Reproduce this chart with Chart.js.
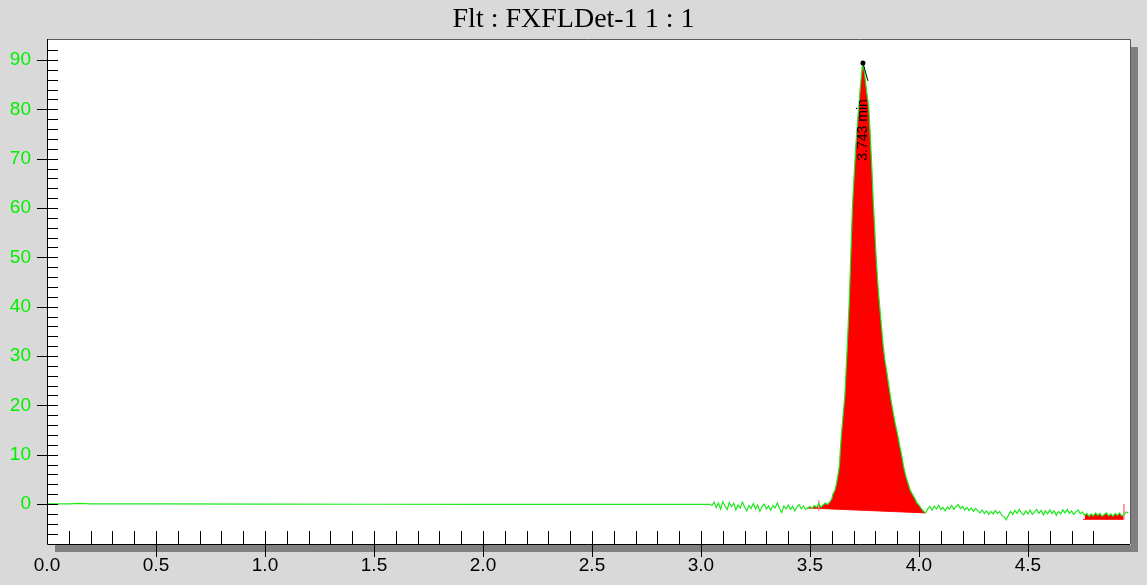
<!DOCTYPE html>
<html>
<head>
<meta charset="utf-8">
<script src="https://cdn.jsdelivr.net/npm/chart.js@4.4.1/dist/chart.umd.min.js"></script>
<style>
  html, body { margin:0; padding:0; background:#d9d9d9; }
  canvas { display:block; }
</style>
</head>
<body>
<canvas id="trace" width="1147" height="585"></canvas>
<script>
const chartTitle = 'Flt : FXFLDet-1 1 : 1';

// flat part of the run
const baseTime   = [0, 0.10, 0.15, 0.20, 0.50, 1.00, 1.50, 2.00, 2.50, 2.90, 3.00, 3.04];
const baseSignal = [0.05, 0.05, 0.15, 0.05, 0.02, -0.02, -0.04, -0.06, -0.08, -0.06, -0.05, -0.05];

// noise before the peak
const preTime = [3.05,3.06,3.07,3.08,3.09,3.10,3.11,3.12,3.13,3.14,3.15,3.16,3.17,3.18,3.19,3.20,3.21,3.22,
  3.23,3.24,3.25,3.26,3.27,3.28,3.29,3.30,3.31,3.32,3.33,3.34,3.35,3.36,3.37,3.38,3.39,3.40,3.41,3.42,3.43,
  3.44,3.45,3.46,3.47,3.48];
const preSignal = [-0.3,0.4,-0.7,0.2,-1.0,0.5,-0.4,-1.1,0.3,-0.5,0.2,-1.2,-0.2,-0.8,0.4,-0.6,-1.4,-0.3,
  -0.9,0.1,-1.0,-0.2,-1.5,-0.5,0.0,-1.0,-0.4,-1.3,-0.3,-0.8,0.2,-0.9,-1.7,-0.4,-1.0,-0.2,-1.1,-0.5,-1.4,
  -0.6,-0.1,-1.0,-0.4,-1.1];

// the peak
const peakTime = [3.49,3.50,3.51,3.52,3.53,3.54,3.55,3.56,3.57,3.58,3.59,3.60,3.605,3.61,3.615,3.62,3.625,
  3.63,3.635,3.64,3.645,3.65,3.655,3.66,3.665,3.67,3.675,3.68,3.685,3.69,3.695,3.70,3.705,3.71,3.715,3.72,
  3.725,3.73,3.735,3.74,3.743,3.75,3.755,3.76,3.765,3.77,3.775,3.78,3.785,3.79,3.795,3.80,3.805,3.81,3.815,
  3.82,3.825,3.83,3.835,3.84,3.845,3.85,3.86,3.87,3.88,3.89,3.90,3.91,3.92,3.93,3.94,3.95,3.96,3.97,3.98,
  3.99,4.00,4.01,4.02,4.03];
const peakSignal = [-0.8,-0.5,-0.9,-0.3,-0.7,0.1,-0.6,-0.2,0.2,-0.1,0.4,1.0,2.0,2.4,2.9,3.8,5.0,
  6.3,7.8,11.5,14.5,17.0,19.5,22.0,26.5,31.0,36.0,41.0,47.5,54.0,60.5,64.5,68.5,72.5,75.5,78.5,
  81.0,84.0,86.5,88.8,89.4,87.5,85.5,83.5,82.0,80.0,76.0,71.5,67.0,61.5,57.5,53.0,49.0,45.5,42.5,
  40.0,37.5,35.0,32.5,30.5,28.8,27.5,24.5,21.5,19.0,16.5,14.5,12.2,10.0,7.5,5.6,4.2,2.8,2.0,1.2,
  0.3,-0.2,-0.9,-1.4,-1.8];

// noise after the peak
const postTime = [4.04,4.05,4.06,4.07,4.08,4.09,4.10,4.11,4.12,4.13,4.14,4.15,4.16,4.17,4.18,4.19,4.20,
  4.21,4.22,4.23,4.24,4.25,4.26,4.27,4.28,4.29,4.30,4.31,4.32,4.33,4.34,4.35,4.36,4.37,4.38,4.39,4.40,
  4.41,4.42,4.43,4.44,4.45,4.46,4.47,4.48,4.49,4.50,4.51,4.52,4.53,4.54,4.55,4.56,4.57,4.58,4.59,4.60,
  4.61,4.62,4.63,4.64,4.65,4.66,4.67,4.68,4.69,4.70,4.71,4.72,4.73,4.74,4.75,4.76,4.77,4.78,4.79,4.80,
  4.81,4.82,4.83,4.84,4.85,4.86,4.87,4.88,4.89,4.90,4.91,4.92,4.93,4.94,4.95,4.96];
const postSignal = [-1.0,-0.5,-1.2,-0.4,-1.0,-0.3,-1.1,-0.7,-1.4,-0.6,-1.0,-0.3,-1.1,-0.5,-0.1,-0.9,-0.5,
  -1.2,-0.7,-1.3,-0.8,-1.5,-0.9,-1.4,-1.8,-1.2,-1.9,-1.4,-2.1,-1.5,-2.0,-1.3,-1.9,-1.5,-2.3,-2.6,-3.2,
  -2.3,-1.5,-2.1,-1.3,-1.9,-1.1,-1.8,-2.2,-1.4,-2.0,-1.2,-2.1,-1.6,-1.1,-1.9,-1.3,-2.2,-1.4,-2.0,-1.2,
  -1.9,-1.4,-2.3,-1.5,-2.0,-1.2,-1.8,-1.1,-1.9,-1.4,-2.1,-1.6,-1.2,-2.0,-1.6,-2.3,-1.9,-2.5,-2.0,-2.4,
  -1.8,-2.3,-1.9,-2.5,-2.1,-1.8,-2.4,-2.0,-2.5,-1.9,-2.3,-1.8,-2.4,-2.2,-1.6,-1.8];

// integration baselines (start / end of each area)
const peakBaseTime = [3.486, 4.03];
const peakBaseSignal = [-0.8, -1.8];
const tailBaseTime = [4.752, 4.94];
const tailBaseSignal = [-3.1, -3.1];

// integration markers
const markerTime = [3.54, 4.94];
const markerTop = [0.7, 0.0];
const markerBottom = [-1.4, -3.0];

const apexTime = 3.743;
const apexLabel = '3.743 min';

const xMin = 0, xMax = 4.968;
const yMin = -8.1, yMax = 94.25;

const traceTime = [...baseTime, ...preTime, ...peakTime, ...postTime];
const traceSignal = [...baseSignal, ...preSignal, ...peakSignal, ...postSignal];
const toPoints = (t, s) => t.map((x, i) => ({x, y: s[i]}));
const trace = toPoints(traceTime, traceSignal);
const between = (a, b) => trace.filter(p => p.x >= a && p.x <= b);

const near = (v, step) => Math.abs(v / step - Math.round(v / step)) < 1e-6;

const frame = {
  id: 'frame',
  beforeDraw(chart) {
    const {ctx, chartArea: a} = chart;
    ctx.save();
    ctx.fillStyle = '#d9d9d9';
    ctx.fillRect(0, 0, chart.width, chart.height);
    ctx.fillStyle = '#808080';
    ctx.fillRect(a.right + 1, a.top + 8, 7, a.bottom - a.top);
    ctx.fillRect(a.left + 8, a.bottom + 1, a.right - a.left, 7);
    ctx.fillStyle = '#fff';
    ctx.fillRect(a.left, a.top, a.right - a.left, a.bottom - a.top);
    // title, centred on the whole window
    ctx.fillStyle = '#000';
    ctx.font = '28px "Liberation Serif"';
    ctx.textAlign = 'center';
    ctx.textBaseline = 'middle';
    ctx.fillText(chartTitle, chart.width / 2, 20);
    ctx.restore();
  },
  afterDatasetsDraw(chart) {
    const {ctx} = chart;
    const pt = chart.getDatasetMeta(0).data[traceTime.indexOf(apexTime)];
    ctx.save();
    ctx.fillStyle = '#000';
    ctx.strokeStyle = '#000';
    ctx.beginPath();
    ctx.arc(pt.x, pt.y, 2.5, 0, Math.PI * 2);
    ctx.fill();
    ctx.lineWidth = 1;
    ctx.beginPath();
    ctx.moveTo(pt.x, pt.y);
    ctx.lineTo(pt.x + 5, pt.y + 18);
    ctx.stroke();
    ctx.translate(pt.x, pt.y + 67);
    ctx.rotate(-Math.PI / 2);
    ctx.font = '14px "Liberation Sans"';
    ctx.textAlign = 'center';
    ctx.textBaseline = 'middle';
    ctx.fillText(apexLabel, 0, 0);
    ctx.restore();
  },
  afterDraw(chart) {
    const {ctx, chartArea: a, scales: {x, y}} = chart;
    ctx.save();
    ctx.lineWidth = 1;
    // top and right border
    ctx.strokeStyle = '#5a5a5a';
    ctx.beginPath();
    ctx.moveTo(a.left, a.top + 0.5);
    ctx.lineTo(a.right + 0.5, a.top + 0.5);
    ctx.lineTo(a.right + 0.5, a.bottom);
    ctx.stroke();
    // axes
    ctx.strokeStyle = '#000';
    ctx.beginPath();
    ctx.moveTo(a.left + 0.5, a.top);
    ctx.lineTo(a.left + 0.5, a.bottom + 0.5);
    ctx.lineTo(a.right, a.bottom + 0.5);
    ctx.stroke();
    // tick marks
    ctx.beginPath();
    y.ticks.forEach(t => {
      const py = Math.round(y.getPixelForValue(t.value)) + 0.5;
      ctx.moveTo(near(t.value, 10) ? a.left - 10 : a.left, py);
      ctx.lineTo(a.left + 11, py);
    });
    x.ticks.forEach(t => {
      if (t.value <= 0) return;
      const px = Math.round(x.getPixelForValue(t.value)) + 0.5;
      ctx.moveTo(px, a.bottom - 13);
      ctx.lineTo(px, near(t.value, 0.5) ? a.bottom + 13 : a.bottom);
    });
    ctx.stroke();
    ctx.restore();
  }
};

new Chart(document.getElementById('trace'), {
  type: 'line',
  data: {
    datasets: [
      { data: trace, borderColor: '#1ee81e', borderWidth: 1.2, pointRadius: 0, fill: false, order: 0 },
      { data: between(peakBaseTime[0], peakBaseTime[1]), borderWidth: 0, pointRadius: 0,
        backgroundColor: '#ff0000', fill: 2, order: 2 },
      { data: toPoints(peakBaseTime, peakBaseSignal), borderColor: '#ff2020', borderWidth: 1,
        pointRadius: 0, fill: false, order: 3 },
      { data: between(tailBaseTime[0], tailBaseTime[1]), borderWidth: 0, pointRadius: 0,
        backgroundColor: '#ff0000', fill: 4, order: 2 },
      { data: toPoints(tailBaseTime, tailBaseSignal), borderColor: '#ff2020', borderWidth: 1,
        pointRadius: 0, fill: false, order: 3 },
      { data: [{x: markerTime[0], y: markerTop[0]}, {x: markerTime[0], y: markerBottom[0]}],
        borderColor: '#ff8a8a', borderWidth: 1, pointRadius: 0, order: 1 },
      { data: [{x: markerTime[1], y: markerTop[1]}, {x: markerTime[1], y: markerBottom[1]}],
        borderColor: '#ff8a8a', borderWidth: 1, pointRadius: 0, order: 1 }
    ]
  },
  options: {
    responsive: false,
    animation: false,
    devicePixelRatio: 1,
    layout: { padding: { left: 0, right: 17, top: 39, bottom: 0 } },
    plugins: {
      legend: { display: false },
      tooltip: { enabled: false },
      title: { display: false }
    },
    scales: {
      x: {
        type: 'linear', min: xMin, max: xMax,
        grid: { display: false, drawTicks: false }, border: { display: false },
        afterBuildTicks: s => { s.ticks = s.ticks.filter(t => near(t.value, 0.1) && t.value < 4.95); },
        afterFit: s => { s.height = 41; },
        ticks: {
          stepSize: 0.1, autoSkip: false, maxRotation: 0, padding: 10, color: '#000',
          font: { family: '"Liberation Sans"', size: 19 },
          callback: v => near(v, 0.5) ? v.toFixed(1) : ''
        }
      },
      y: {
        min: yMin, max: yMax,
        grid: { display: false, drawTicks: false }, border: { display: false },
        afterBuildTicks: s => { s.ticks = s.ticks.filter(t => near(t.value, 2) && t.value >= -6 && t.value <= 92); },
        afterFit: s => { s.width = 47; },
        ticks: {
          stepSize: 2, autoSkip: false, padding: 16, color: '#00f000',
          font: { family: '"Liberation Sans"', size: 19 },
          callback: v => near(v, 10) ? String(Math.round(v)) : ''
        }
      }
    }
  },
  plugins: [frame]
});
</script>
</body>
</html>
